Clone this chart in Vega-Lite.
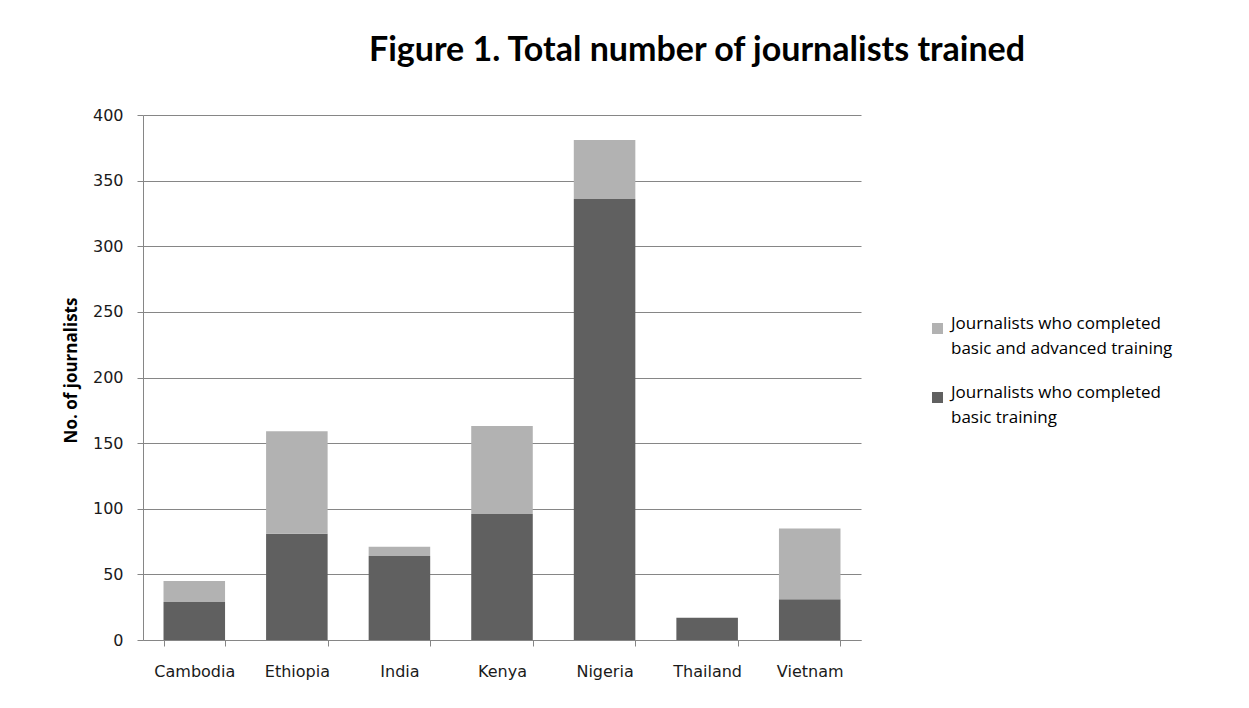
{
  "$schema": "https://vega.github.io/schema/vega-lite/v6.json",
  "autosize": "none",
  "width": 718,
  "height": 525,
  "padding": {"left": 143, "top": 115, "right": 388, "bottom": 68},
  "background": "white",
  "title": {
    "text": "Figure 1. Total number of journalists trained",
    "font": "Lato",
    "fontSize": 34,
    "fontWeight": "bold",
    "color": "#000000",
    "anchor": "middle",
    "dx": 195,
    "offset": 39
  },
  "data": {
    "values": [
      {"country": "Cambodia", "type": "Journalists who completed basic training", "count": 29},
      {"country": "Cambodia", "type": "Journalists who completed basic and advanced training", "count": 16},
      {"country": "Ethiopia", "type": "Journalists who completed basic training", "count": 81},
      {"country": "Ethiopia", "type": "Journalists who completed basic and advanced training", "count": 78},
      {"country": "India", "type": "Journalists who completed basic training", "count": 64},
      {"country": "India", "type": "Journalists who completed basic and advanced training", "count": 7},
      {"country": "Kenya", "type": "Journalists who completed basic training", "count": 96},
      {"country": "Kenya", "type": "Journalists who completed basic and advanced training", "count": 67},
      {"country": "Nigeria", "type": "Journalists who completed basic training", "count": 336},
      {"country": "Nigeria", "type": "Journalists who completed basic and advanced training", "count": 45},
      {"country": "Thailand", "type": "Journalists who completed basic training", "count": 17},
      {"country": "Thailand", "type": "Journalists who completed basic and advanced training", "count": 0},
      {"country": "Vietnam", "type": "Journalists who completed basic training", "count": 31},
      {"country": "Vietnam", "type": "Journalists who completed basic and advanced training", "count": 54}
    ]
  },
  "mark": {"type": "bar"},
  "encoding": {
    "x": {
      "field": "country",
      "type": "nominal",
      "sort": null,
      "scale": {"paddingInner": 0.4, "paddingOuter": 0.2},
      "axis": {
        "title": null,
        "labelAngle": 0,
        "labelFont": "DejaVu Sans",
        "labelFontSize": 16,
        "labelColor": "#1a1a1a",
        "labelPadding": 17,
        "tickBand": "extent",
        "tickSize": 6,
        "tickColor": "#868686",
        "domainColor": "#868686",
        "grid": false
      }
    },
    "y": {
      "field": "count",
      "type": "quantitative",
      "stack": "zero",
      "scale": {"domain": [0, 400], "nice": false},
      "axis": {
        "title": "No. of journalists",
        "titleFont": "Open Sans",
        "titleFontSize": 17,
        "titleFontWeight": "bold",
        "titleColor": "#000000",
        "titlePadding": 12,
        "titleY": 255,
        "titleAlign": "center",
        "values": [0, 50, 100, 150, 200, 250, 300, 350, 400],
        "labelFont": "DejaVu Sans",
        "labelFontSize": 16,
        "labelColor": "#1a1a1a",
        "labelPadding": 14,
        "tickSize": 6,
        "tickColor": "#868686",
        "domainColor": "#868686",
        "gridColor": "#868686",
        "gridWidth": 1
      }
    },
    "color": {
      "field": "type",
      "type": "nominal",
      "scale": {
        "domain": ["Journalists who completed basic and advanced training", "Journalists who completed basic training"],
        "range": ["#b2b2b2", "#606060"]
      },
      "legend": {
        "title": null,
        "orient": "none",
        "legendX": 786,
        "legendY": 205,
        "symbolType": "square",
        "symbolSize": 121,
        "symbolStrokeWidth": 0,
        "labelFont": "Open Sans",
        "labelFontSize": 17,
        "labelColor": "#000000",
        "labelLimit": 400,
        "labelBaseline": "alphabetic",
        "labelOffset": 5,
        "rowPadding": 26,
        "labelExpr": "datum.label == 'Journalists who completed basic training' ? ['Journalists who completed', 'basic training'] : ['Journalists who completed', 'basic and advanced training']"
      }
    },
    "order": {"field": "type", "sort": "descending"}
  },
  "config": {
    "view": {"stroke": null},
    "style": {"guide-label": {"lineHeight": 25}}
  }
}
